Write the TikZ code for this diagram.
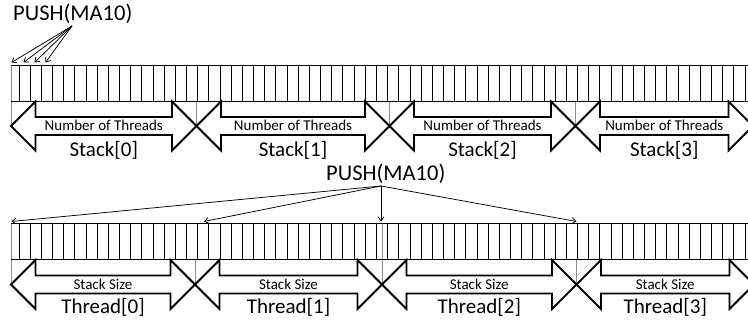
\documentclass[tikz,border=0pt]{standalone}
\usepackage{fontspec}
\setmainfont{Carlito}
\usetikzlibrary{arrows.meta}
\newcommand\DblArrowShape[3]{%
  \draw[dblarrow] (#1,#3) -- ({#1+24.5},{#3-24.5}) -- ({#1+24.5},{#3-9}) -- ({#2-24.5},{#3-9})
    -- ({#2-24.5},{#3-24.5}) -- (#2,#3) -- ({#2-24.5},{#3+24.5}) -- ({#2-24.5},{#3+9})
    -- ({#1+24.5},{#3+9}) -- ({#1+24.5},{#3+24.5}) -- cycle;}
\begin{document}
\begin{tikzpicture}[x=1pt,y=-1pt,
  cellline/.style={line width=0.9pt,black},
  sepline/.style={line width=0.9pt,black!45},
  dblarrow/.style={line width=1.8pt,black,line join=miter},
  pusharrow/.style={line width=0.75pt,-{Straight Barb[length=4pt,width=6pt]}},
  biglabel/.style={font=\fontsize{21}{25}\selectfont,inner sep=0pt,anchor=base},
  smalllabel/.style={font=\fontsize{15}{18}\selectfont,inner sep=0pt,anchor=base},
  pushlabel/.style={font=\fontsize{22.5}{27}\selectfont,inner sep=0pt,anchor=base west}]
\useasboundingbox (0,0) rectangle (748,320);
\clip (0,0) rectangle (748,320);

% ---------- top array ----------
\draw[sepline] (11,65) -- (11,126);
\foreach \x in {196.5,389.5,575.5} \draw[sepline] (\x,101) -- (\x,126);
\foreach \k in {0,...,65} \draw[cellline] ({19+\k*11.17},65) -- ({19+\k*11.17},101);
\draw[cellline] (11,65) -- (748,65);
\draw[cellline] (11,101) -- (748,101);

\DblArrowShape{11}{196.5}{126}
\DblArrowShape{196.5}{389.5}{126}
\DblArrowShape{389.5}{575.5}{126}
\DblArrowShape{575.5}{753}{126}

\node[smalllabel] (nt0) at (103.75,131) {Number of Threads};
\node[smalllabel] (nt1) at (293,131) {Number of Threads};
\node[smalllabel] (nt2) at (482.5,131) {Number of Threads};
\node[smalllabel] (nt3) at (664.25,131) {Number of Threads};
\node[biglabel] (st0) at (103.75,156.5) {Stack[0]};
\node[biglabel] (st1) at (293,156.5) {Stack[1]};
\node[biglabel] (st2) at (482.5,156.5) {Stack[2]};
\node[biglabel] (st3) at (664.25,156.5) {Stack[3]};

\node[pushlabel] (pushA) at (13,20.5) {PUSH(MA10)};
\coordinate (oA) at (72,26);
\coordinate (tA0) at (11.5,62.5);
\coordinate (tA1) at (23.5,62.5);
\coordinate (tA2) at (34.5,62.5);
\coordinate (tA3) at (45.5,62.5);
\foreach \t in {tA0,tA1,tA2,tA3} \draw[pusharrow] (oA) -- (\t);

% ---------- bottom array ----------
\draw[sepline] (11,223) -- (11,284.5);
\foreach \x in {195,576.5} \draw[sepline] (\x,259.5) -- (\x,284.5);
\draw[sepline] (382,223) -- (382,284.5);
\foreach \k in {0,...,65} \draw[cellline] ({19+\k*11.17},223) -- ({19+\k*11.17},259.5);
\draw[cellline] (11,223) -- (748,223);
\draw[cellline] (11,259.5) -- (748,259.5);

\DblArrowShape{11}{195}{284.5}
\DblArrowShape{195}{382}{284.5}
\DblArrowShape{382}{576.5}{284.5}
\DblArrowShape{576.5}{754}{284.5}

\node[smalllabel] (ss0) at (103,289.5) {Stack Size};
\node[smalllabel] (ss1) at (288.5,289.5) {Stack Size};
\node[smalllabel] (ss2) at (479.25,289.5) {Stack Size};
\node[smalllabel] (ss3) at (665.25,289.5) {Stack Size};
\node[biglabel] (th0) at (103,314) {Thread[0]};
\node[biglabel] (th1) at (288.5,314) {Thread[1]};
\node[biglabel] (th2) at (479.25,314) {Thread[2]};
\node[biglabel] (th3) at (665.25,314) {Thread[3]};

\node[pushlabel] (pushB) at (326,180.5) {PUSH(MA10)};
\coordinate (oB) at (381,186);
\coordinate (tB0) at (11.5,221.5);
\coordinate (tB1) at (204,221.5);
\coordinate (tB2) at (381,221.5);
\coordinate (tB3) at (576.5,221.5);
\foreach \t in {tB0,tB1,tB2,tB3} \draw[pusharrow] (oB) -- (\t);
\end{tikzpicture}
\end{document}
